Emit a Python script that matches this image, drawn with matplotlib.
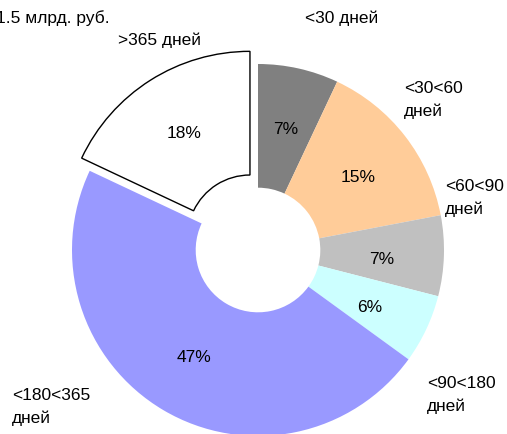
import matplotlib.pyplot as plt

plt.rcParams['font.family'] = ['Liberation Sans', 'DejaVu Sans']

# slices clockwise from 12 o'clock
categories = ['<30 дней', '<30<60\nдней', '<60<90\nдней', '<90<180\nдней', '<180<365\nдней', '>365 дней']
shares = [7, 15, 7, 6, 47, 18]
colors = ['#808080', '#FFCC99', '#C0C0C0', '#CCFFFF', '#9999FF', '#FFFFFF']
title = '1.5 млрд. руб.'

fig = plt.figure(figsize=(5.07, 4.34), dpi=100)
ax = fig.add_axes([0, 0, 1, 1])

cx, cy, r = 258, 434 - 250, 186
# explode is in data units here (pixels)
explode = [0, 0, 0, 0, 0, 15]
wedges, texts = ax.pie(shares, colors=colors, explode=explode, startangle=90,
                       counterclock=False, center=(cx, cy), radius=r,
                       wedgeprops=dict(width=r * 0.665, linewidth=0))
wedges[-1].set_edgecolor('black')
wedges[-1].set_linewidth(1)

ax.set_xlim(0, 507)
ax.set_ylim(0, 434)
ax.set_aspect('equal')
ax.axis('off')

fs = 12.5
# percentage labels
pct_pos = [(286, 130), (358, 177), (382, 259), (370, 308), (194, 357), (184, 134)]
for (x, y), v in zip(pct_pos, shares):
    ax.text(x, 434 - y, f'{v}%', ha='center', va='center', fontsize=fs)

# category labels
cat_pos = [(305, 18), (404, 100), (445, 198), (427, 395), (12, 407), (118, 40)]
for (x, y), name in zip(cat_pos, categories):
    ax.text(x, 434 - y, name, ha='left', va='center', fontsize=fs, linespacing=1.6)

ax.text(-4, 434 - 18, title, ha='left', va='center', fontsize=fs)

fig.savefig('out.png', dpi=100)
